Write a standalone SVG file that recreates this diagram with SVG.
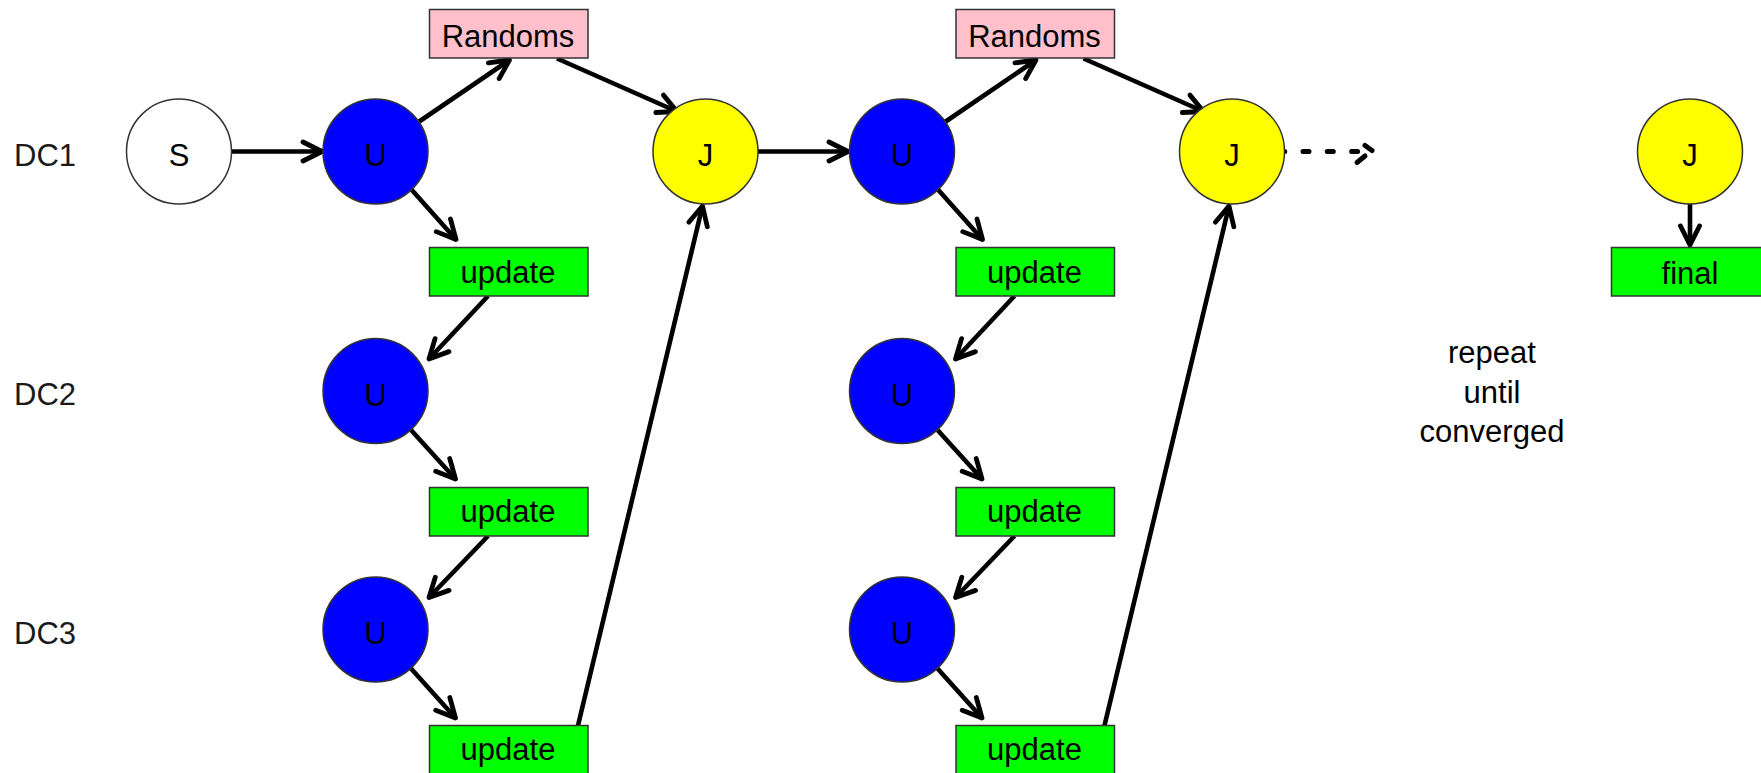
<svg xmlns="http://www.w3.org/2000/svg" width="1761" height="773" viewBox="0 0 1761 773">
  <style>
    .t { font-family: "Liberation Sans", Arial, sans-serif; font-size: 31px; fill: #000; text-anchor: middle; }
    .row { text-anchor: start; fill: #1a1a1a; }
    .circ { stroke: #333; stroke-width: 1.5; }
    .s { fill: #ffffff; }
    .u { fill: #0000ff; }
    .j { fill: #ffff00; }
    .box { stroke: #333; stroke-width: 1.5; }
    .rnd { fill: #ffc0cb; }
    .upd { fill: #00ff00; }
    .edge { stroke: #000; stroke-width: 4.6; fill: none; marker-end: url(#arr); }
    .dots { stroke: #000; stroke-width: 5; fill: none; stroke-linecap: round; }
  </style>
  <defs>
    <marker id="arr" markerUnits="userSpaceOnUse" markerWidth="30" markerHeight="30" refX="0" refY="0" orient="auto" overflow="visible">
      <path d="M-19,-9.5 L0,0 L-19,9.5" fill="none" stroke="#000" stroke-width="4.8" stroke-linecap="round" stroke-linejoin="round"/>
    </marker>
  </defs>

  <rect width="1761" height="773" fill="#fff"/>

  <!-- row labels -->
  <g id="rows">
    <text class="t row" x="14" y="166">DC1</text>
    <text class="t row" x="14" y="405">DC2</text>
    <text class="t row" x="14" y="644">DC3</text>
  </g>

  <!-- connectors -->
  <g id="connectors">
    <line class="edge" x1="231.5" y1="151.5" x2="322" y2="151.5"/>
    <!-- iteration 1 -->
    <line class="edge" x1="418.5" y1="122" x2="509.5" y2="60"/>
    <line class="edge" x1="557" y1="58.5" x2="677" y2="111.5"/>
    <line class="edge" x1="411" y1="189" x2="456" y2="239.5"/>
    <line class="edge" x1="488" y1="296" x2="429" y2="359"/>
    <line class="edge" x1="411" y1="430" x2="455.5" y2="479"/>
    <line class="edge" x1="488" y1="536" x2="429" y2="597.5"/>
    <line class="edge" x1="411" y1="668.5" x2="455.5" y2="718"/>
    <line class="edge" x1="578" y1="725.5" x2="702.5" y2="206"/>
    <line class="edge" x1="758" y1="151.5" x2="848" y2="151.5"/>
    <!-- iteration 2 -->
    <line class="edge" x1="945" y1="122" x2="1036" y2="60"/>
    <line class="edge" x1="1083.5" y1="58.5" x2="1203.5" y2="111.5"/>
    <line class="edge" x1="937.5" y1="189" x2="982.5" y2="239.5"/>
    <line class="edge" x1="1014.5" y1="296" x2="955.5" y2="359"/>
    <line class="edge" x1="937.5" y1="430" x2="982" y2="479"/>
    <line class="edge" x1="1014.5" y1="536" x2="955.5" y2="597.5"/>
    <line class="edge" x1="937.5" y1="668.5" x2="982" y2="718"/>
    <line class="edge" x1="1104.5" y1="725.5" x2="1229" y2="206"/>
    <!-- continuation, dotted -->
    <line class="dots" x1="1278.7" y1="151.5" x2="1360" y2="151.5" stroke-dasharray="6 18.3"/>
    <line class="dots" x1="1365" y1="145.5" x2="1372" y2="150.5"/>
    <line class="dots" x1="1365" y1="156" x2="1357" y2="162.5"/>
    <!-- final -->
    <line class="edge" x1="1690" y1="204" x2="1690" y2="245"/>
  </g>

  <!-- start -->
  <g id="node-s">
    <circle class="circ s" cx="179" cy="151.5" r="52.5"/>
    <text class="t" x="179" y="166">S</text>
  </g>

  <!-- iteration 1 -->
  <g id="node-u1-dc1">
    <circle class="circ u" cx="375.5" cy="151.5" r="52.5"/>
    <text class="t" x="375.5" y="166">U</text>
  </g>
  <g id="node-u1-dc2">
    <circle class="circ u" cx="375.5" cy="391" r="52.5"/>
    <text class="t" x="375.5" y="405.5">U</text>
  </g>
  <g id="node-u1-dc3">
    <circle class="circ u" cx="375.5" cy="629.5" r="52.5"/>
    <text class="t" x="375.5" y="644">U</text>
  </g>
  <g id="node-randoms1">
    <rect class="box rnd" x="429.5" y="9.5" width="158.5" height="48.5"/>
    <text class="t" x="508" y="46.5">Randoms</text>
  </g>
  <g id="node-update1-dc1">
    <rect class="box upd" x="429.5" y="247.5" width="158.5" height="48.5"/>
    <text class="t" x="508" y="282.5">update</text>
  </g>
  <g id="node-update1-dc2">
    <rect class="box upd" x="429.5" y="487.5" width="158.5" height="48.5"/>
    <text class="t" x="508" y="522">update</text>
  </g>
  <g id="node-update1-dc3">
    <rect class="box upd" x="429.5" y="725.5" width="158.5" height="48.5"/>
    <text class="t" x="508" y="760">update</text>
  </g>
  <g id="node-j1">
    <circle class="circ j" cx="705.5" cy="151.5" r="52.5"/>
    <text class="t" x="705.5" y="166">J</text>
  </g>

  <!-- iteration 2 -->
  <g id="node-u2-dc1">
    <circle class="circ u" cx="902" cy="151.5" r="52.5"/>
    <text class="t" x="902" y="166">U</text>
  </g>
  <g id="node-u2-dc2">
    <circle class="circ u" cx="902" cy="391" r="52.5"/>
    <text class="t" x="902" y="405.5">U</text>
  </g>
  <g id="node-u2-dc3">
    <circle class="circ u" cx="902" cy="629.5" r="52.5"/>
    <text class="t" x="902" y="644">U</text>
  </g>
  <g id="node-randoms2">
    <rect class="box rnd" x="956" y="9.5" width="158.5" height="48.5"/>
    <text class="t" x="1034.5" y="46.5">Randoms</text>
  </g>
  <g id="node-update2-dc1">
    <rect class="box upd" x="956" y="247.5" width="158.5" height="48.5"/>
    <text class="t" x="1034.5" y="282.5">update</text>
  </g>
  <g id="node-update2-dc2">
    <rect class="box upd" x="956" y="487.5" width="158.5" height="48.5"/>
    <text class="t" x="1034.5" y="522">update</text>
  </g>
  <g id="node-update2-dc3">
    <rect class="box upd" x="956" y="725.5" width="158.5" height="48.5"/>
    <text class="t" x="1034.5" y="760">update</text>
  </g>
  <g id="node-j2">
    <circle class="circ j" cx="1232" cy="151.5" r="52.5"/>
    <text class="t" x="1232" y="166">J</text>
  </g>

  <!-- loop note -->
  <g id="note">
    <text class="t" x="1492" y="362.5">repeat</text>
    <text class="t" x="1492" y="402.5">until</text>
    <text class="t" x="1492" y="441.5">converged</text>
  </g>

  <!-- result -->
  <g id="node-j-final">
    <circle class="circ j" cx="1690" cy="151.5" r="52.5"/>
    <text class="t" x="1690" y="166">J</text>
  </g>
  <g id="node-final">
    <rect class="box upd" x="1611.5" y="247.5" width="158.5" height="48.5"/>
    <text class="t" x="1690" y="284">final</text>
  </g>
</svg>
